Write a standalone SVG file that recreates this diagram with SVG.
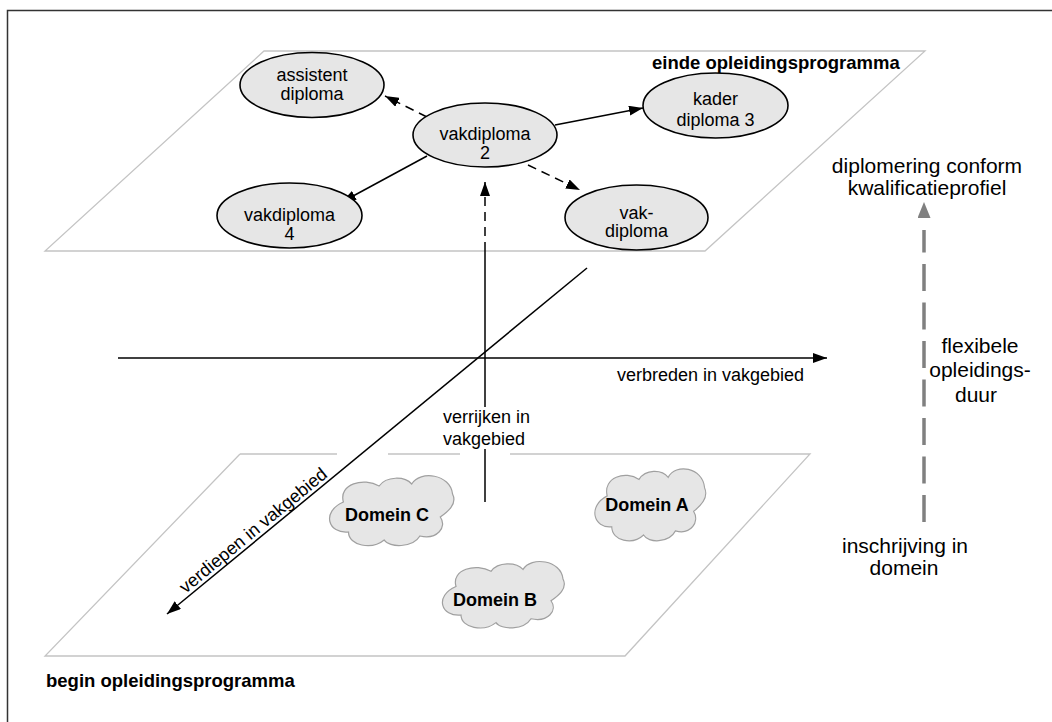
<svg xmlns="http://www.w3.org/2000/svg" width="1052" height="722" viewBox="0 0 1052 722">
<style>
.plane{fill:none;stroke:#c4c4c4;stroke-width:1.3}
.node ellipse{fill:#e6e6e6;stroke:#000;stroke-width:1.6}
.t{font-family:"Liberation Sans",Arial,sans-serif;font-size:18px;fill:#000}
.tb{font-family:"Liberation Sans",Arial,sans-serif;font-size:18px;font-weight:bold;fill:#000}
.tl{font-family:"Liberation Sans",Arial,sans-serif;font-size:21px;fill:#000}
.c{text-anchor:middle}
.ln{stroke:#000;stroke-width:1.5;fill:none}
.dash{stroke-dasharray:9 6}
.cloud{fill:#e6e6e6;stroke:#a0a0a0;stroke-width:1.2}
</style>
<defs>
<marker id="ah" viewBox="0 0 14 10" refX="14" refY="5" markerWidth="14" markerHeight="10" markerUnits="userSpaceOnUse" orient="auto">
<path d="M0,0 L14,5 L0,10 Z" fill="#000"/>
</marker>
<marker id="ahg" viewBox="0 0 16 13" refX="16" refY="6.5" markerWidth="16" markerHeight="13" markerUnits="userSpaceOnUse" orient="auto">
<path d="M0,0 L16,6.5 L0,13 Z" fill="#808080"/>
</marker>
<path id="cloud" d="M20,30 C15,12 40,5 55,14 C62,4 80,4 87,12 C95,-2 125,2 127,22 C132,32 122,40 115,45 C122,55 112,68 95,64 C88,76 65,76 60,68 C48,78 25,74 25,60 C5,62 -2,40 20,30 Z"/>
</defs>
<rect width="1052" height="722" fill="#fff"/>
<rect x="7.5" y="10.5" width="1200" height="900" fill="none" stroke="#333" stroke-width="1.5"/>

<g id="planes">
<polygon class="plane" points="264,51 925,51 705,251 45,251"/>
<path class="plane" d="M240,454 L337,454 M388,454 L460,454 M510,454 L810,454 L625,656 L45,656 L240,454"/>
</g>

<g id="connectors">
<line class="ln" x1="118" y1="358" x2="827" y2="358" marker-end="url(#ah)"/>
<line class="ln" x1="587" y1="268" x2="167" y2="614" stroke-width="1.8" marker-end="url(#ah)"/>
<line class="ln" x1="485" y1="502" x2="485" y2="449"/>
<line class="ln" x1="485" y1="407" x2="485" y2="251"/>
<line class="ln dash" x1="485" y1="251" x2="485" y2="182" marker-end="url(#ah)"/>
<line class="ln dash" x1="427" y1="117" x2="385" y2="96" marker-end="url(#ah)"/>
<line class="ln" x1="427" y1="156" x2="342" y2="202" marker-end="url(#ah)"/>
<line class="ln" x1="555" y1="125" x2="643" y2="108" marker-end="url(#ah)"/>
<line class="ln dash" x1="528" y1="165" x2="580" y2="190" marker-end="url(#ah)"/>
<line x1="924" y1="522" x2="924" y2="230" stroke="#808080" stroke-width="3.5" stroke-dasharray="27 11.5"/>
<line x1="924" y1="230" x2="924" y2="202" stroke="#808080" stroke-width="0" marker-end="url(#ahg)"/>
</g>

<g id="assistent" class="node">
<ellipse cx="312" cy="85" rx="72" ry="32.5"/>
<text class="t c" x="312" y="81">assistent</text>
<text class="t c" x="312" y="100">diploma</text>
</g>
<g id="vakdiploma2" class="node">
<ellipse cx="485" cy="135" rx="72" ry="32"/>
<text class="t c" x="485" y="140">vakdiploma</text>
<text class="t c" x="485" y="159">2</text>
</g>
<g id="vakdiploma4" class="node">
<ellipse cx="289.5" cy="215.5" rx="72.5" ry="32.5"/>
<text class="t c" x="289.5" y="221">vakdiploma</text>
<text class="t c" x="289.5" y="240">4</text>
</g>
<g id="kader" class="node">
<ellipse cx="715.5" cy="105.5" rx="72.5" ry="32.5"/>
<text class="t c" x="715.5" y="105">kader</text>
<text class="t c" x="715.5" y="126">diploma 3</text>
</g>
<g id="vakdiploma" class="node">
<ellipse cx="636.5" cy="217.5" rx="71.5" ry="32.5"/>
<text class="t c" x="636.5" y="219">vak-</text>
<text class="t c" x="636.5" y="237">diploma</text>
</g>

<g id="domeinC">
<use href="#cloud" class="cloud" transform="translate(323,472) scale(1.02,1.0)"/>
<text class="tb c" x="387" y="521">Domein C</text>
</g>
<g id="domeinB">
<use href="#cloud" class="cloud" transform="translate(436,558) scale(1.0,0.95)"/>
<text class="tb c" x="495" y="606">Domein B</text>
</g>
<g id="domeinA">
<use href="#cloud" class="cloud" transform="translate(589,465) scale(0.91,1.03)"/>
<text class="tb c" x="647" y="511">Domein A</text>
</g>

<g id="labels">
<text class="tb" x="652" y="69" style="font-size:18.5px">einde opleidingsprogramma</text>
<text class="tb" x="46" y="687" style="font-size:18.5px">begin opleidingsprogramma</text>
<text class="t" x="617" y="381">verbreden in vakgebied</text>
<text class="t" x="443" y="423">verrijken in</text>
<text class="t" x="443" y="445">vakgebied</text>
<text class="t c" transform="translate(257,535) rotate(-39.5)">verdiepen in vakgebied</text>
<text class="tl c" x="927" y="173">diplomering conform</text>
<text class="tl c" x="927" y="195">kwalificatieprofiel</text>
<text class="tl c" x="980" y="353">flexibele</text>
<text class="tl c" x="980" y="377">opleidings-</text>
<text class="tl c" x="976" y="402">duur</text>
<text class="tl c" x="905" y="553">inschrijving in</text>
<text class="tl c" x="904" y="575">domein</text>
</g>
</svg>
